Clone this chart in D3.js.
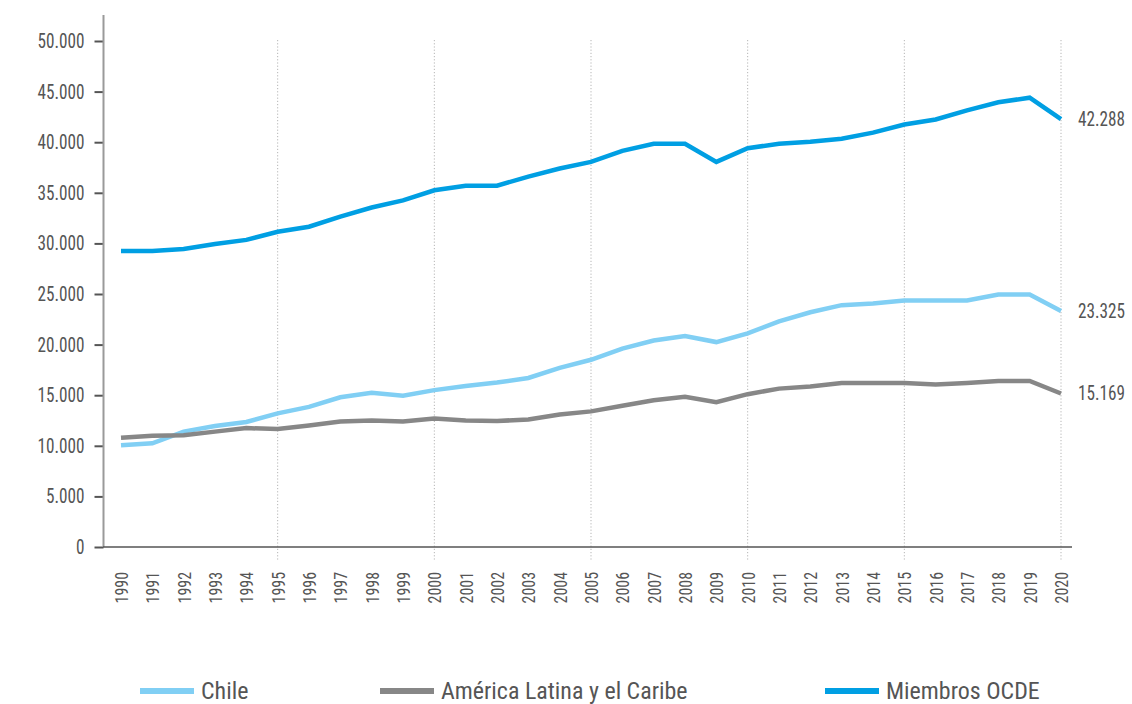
<!DOCTYPE html>
<html>
<head>
<meta charset="utf-8">
<script src="https://cdn.jsdelivr.net/npm/d3@7"></script>
<style>
  html, body { margin: 0; padding: 0; background: #fff; }
  svg text { font-family: "Roboto Condensed", Roboto, "Liberation Sans", sans-serif; }
</style>
</head>
<body>
<svg id="chart" width="1132" height="704"></svg>
<script>
const years = d3.range(1990, 2021);
const chile = [10050, 10250, 11400, 11950, 12350, 13200, 13850, 14800, 15250, 14950,
               15500, 15900, 16250, 16700, 17700, 18500, 19600, 20400, 20850, 20250,
               21100, 22300, 23200, 23900, 24050, 24350, 24350, 24350, 24950, 24950, 23325];
const alc = [10800, 11000, 11050, 11400, 11750, 11650, 12000, 12400, 12500, 12400,
             12700, 12500, 12450, 12600, 13100, 13400, 13950, 14500, 14850, 14300,
             15100, 15650, 15850, 16200, 16200, 16200, 16050, 16200, 16400, 16400, 15169];
const ocde = [29250, 29250, 29450, 29950, 30350, 31150, 31650, 32650, 33550, 34250,
              35250, 35700, 35700, 36600, 37400, 38050, 39150, 39850, 39850, 38050,
              39400, 39850, 40050, 40350, 40950, 41750, 42250, 43150, 43950, 44400, 42288];
const seriesNames = ["Chile", "América Latina y el Caribe", "Miembros OCDE"];
const seriesColors = ["#81CFF4", "#878787", "#009FE3"];
const endLabels = ["23.325", "15.169", "42.288"];
const yTicks = [0, 5000, 10000, 15000, 20000, 25000, 30000, 35000, 40000, 45000, 50000];
const gridYears = [1995, 2000, 2005, 2010, 2015, 2020];

const seriesData = [chile, alc, ocde];
const SX = 0.86; // horizontal condensing factor

const svg = d3.select("#chart");
const x = d3.scaleLinear().domain([1990, 2020]).range([121, 1061]);
const y = d3.scaleLinear().domain([0, 50000]).range([547, 41]);

const fmt = v => d3.format(",")(v).replace(/,/g, ".");

// vertical dotted gridlines
svg.append("g").selectAll("line").data(gridYears).join("line")
  .attr("x1", d => x(d)).attr("x2", d => x(d))
  .attr("y1", 40).attr("y2", 560)
  .attr("stroke", "#b5b5b5").attr("stroke-width", 1)
  .attr("stroke-dasharray", "1.2,2");

// y axis
const yAxis = svg.append("g").attr("transform", "translate(103.5,0)")
  .call(d3.axisLeft(y).tickValues(yTicks).tickFormat(fmt).tickSize(9).tickPadding(0));
yAxis.select(".domain").remove();
yAxis.selectAll(".tick line").attr("stroke", "#555").attr("stroke-width", 2);
yAxis.selectAll(".tick text").attr("fill", "#555").attr("font-size", 20)
  .attr("x", -19 / SX).attr("transform", `scale(${SX},1)`);
svg.append("line").attr("x1", 103.5).attr("x2", 103.5).attr("y1", 15).attr("y2", 547)
  .attr("stroke", "#9a9a9a").attr("stroke-width", 2);

// x axis
const xAxis = svg.append("g").attr("transform", "translate(0,547)")
  .call(d3.axisBottom(x).tickValues(years).tickFormat(d3.format("d")).tickSize(0));
xAxis.select(".domain").remove();
xAxis.selectAll(".tick text")
  .attr("fill", "#555").attr("font-size", 18.5)
  .attr("text-anchor", "end")
  .attr("transform", `rotate(-90) scale(${SX},1)`)
  .attr("x", -25 / SX).attr("y", 0).attr("dy", "0.35em");
svg.append("line").attr("x1", 103).attr("x2", 1072).attr("y1", 547).attr("y2", 547)
  .attr("stroke", "#555").attr("stroke-width", 1.5);

// lines
const line = d3.line().x((d, i) => x(years[i])).y(d => y(d));
svg.append("g").selectAll("path").data(seriesData).join("path")
  .attr("d", d => line(d))
  .attr("fill", "none")
  .attr("stroke", (d, i) => seriesColors[i])
  .attr("stroke-width", 4.5)
  .attr("stroke-linejoin", "miter");

// end labels
svg.append("g").selectAll("text").data(seriesData).join("text")
  .attr("transform", d => `translate(1078,${y(d[d.length - 1])}) scale(${SX},1)`)
  .attr("dy", "0.35em")
  .attr("fill", "#555").attr("font-size", 20)
  .text((d, i) => endLabels[i]);

// legend
const legendX = [140, 380, 825];
const lg = svg.append("g").selectAll("g").data(seriesNames).join("g")
  .attr("transform", (d, i) => `translate(${legendX[i]},691)`);
lg.append("line").attr("x1", 0).attr("x2", 54).attr("y1", 0).attr("y2", 0)
  .attr("stroke", (d, i) => seriesColors[i]).attr("stroke-width", 6);
lg.append("text")
  .attr("transform", `translate(61,7.5) scale(1.02,1)`)
  .attr("fill", "#555").attr("font-size", 23.5).text(d => d);
</script>
</body>
</html>
